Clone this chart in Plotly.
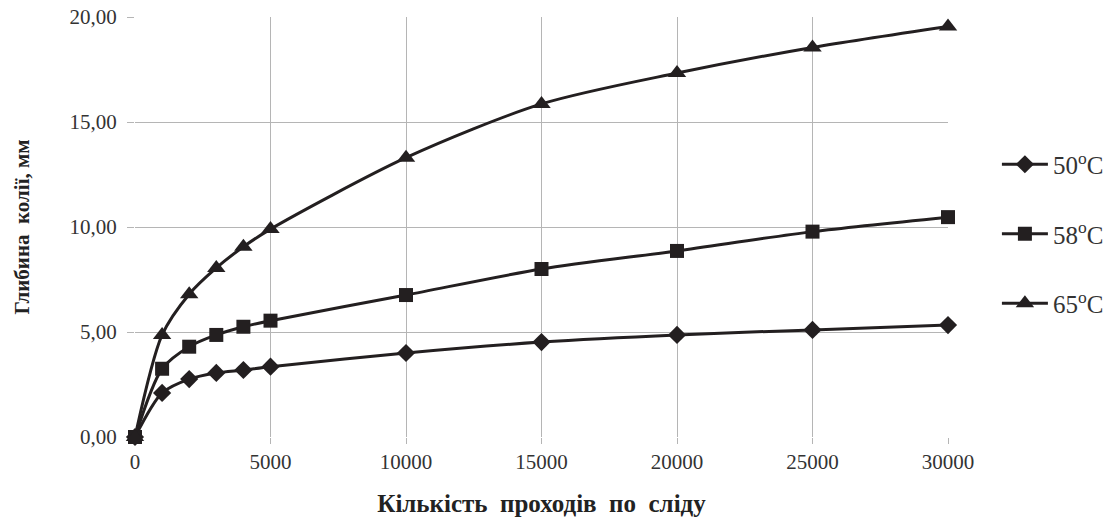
import plotly.graph_objects as go

passes = [0, 1000, 2000, 3000, 4000, 5000, 10000, 15000, 20000, 25000, 30000]
depth_50 = [0, 2.10, 2.76, 3.05, 3.19, 3.35, 4.00, 4.52, 4.86, 5.10, 5.33]
depth_58 = [0, 3.25, 4.30, 4.86, 5.25, 5.54, 6.76, 8.00, 8.86, 9.78, 10.47]
depth_65 = [0, 4.86, 6.80, 8.05, 9.06, 9.90, 13.30, 15.86, 17.33, 18.55, 19.55]

series = [
    ("50<sup>o</sup>C", depth_50, "diamond", 14),
    ("58<sup>o</sup>C", depth_58, "square", 14),
    ("65<sup>o</sup>C", depth_65, "triangle-up", 16),
]

ink = "#231f20"
fig = go.Figure()
for i, (name, ys, sym, sz) in enumerate(series):
    fig.add_trace(go.Scatter(
        x=passes, y=ys, name=name, mode="lines+markers",
        legendgroup=f"g{i}", cliponaxis=False,
        line=dict(color=ink, width=3, shape="spline", smoothing=0.8),
        marker=dict(symbol=sym, size=sz, color=ink),
    ))

serif = "Liberation Serif, Times New Roman, serif"
grid = "#b5b5b5"
fig.update_layout(
    width=1112, height=517,
    margin=dict(l=135, r=164, t=17, b=80),
    paper_bgcolor="white", plot_bgcolor="white",
    separators=", ",
    font=dict(family=serif, color="#333333", size=21),
    showlegend=True,
    legend=dict(xref="container", yref="container",
                x=0.8965, y=1 - 234 / 517, xanchor="left", yanchor="middle",
                tracegroupgap=34, itemwidth=46,
                font=dict(size=25, color="#333333"),
                bgcolor="rgba(0,0,0,0)"),
    xaxis=dict(range=[0, 30000], tickvals=[0, 5000, 10000, 15000, 20000, 25000, 30000],
               tickformat="d", showgrid=True, gridcolor=grid, gridwidth=1,
               zeroline=False, showline=False, ticks="outside", ticklen=6,
               tickcolor=grid, automargin=False,
               title=dict(text="<b>Кількість  проходів  по  сліду</b>",
                          font=dict(size=25, color="#222222"), standoff=22)),
    yaxis=dict(range=[0, 20], tickvals=[0, 5, 10, 15, 20], tickformat=".2f",
               showgrid=True, gridcolor=grid, gridwidth=1,
               zeroline=False, showline=False, ticks="outside", ticklen=7,
               tickcolor=grid, ticklabelstandoff=6, automargin=False,
               title=dict(text="<b>Глибина  колії, мм</b>",
                          font=dict(size=21, color="#222222"), standoff=34)),
)
fig.update_xaxes(layer="below traces")
fig.update_yaxes(layer="below traces")

fig.write_html("out.html")
